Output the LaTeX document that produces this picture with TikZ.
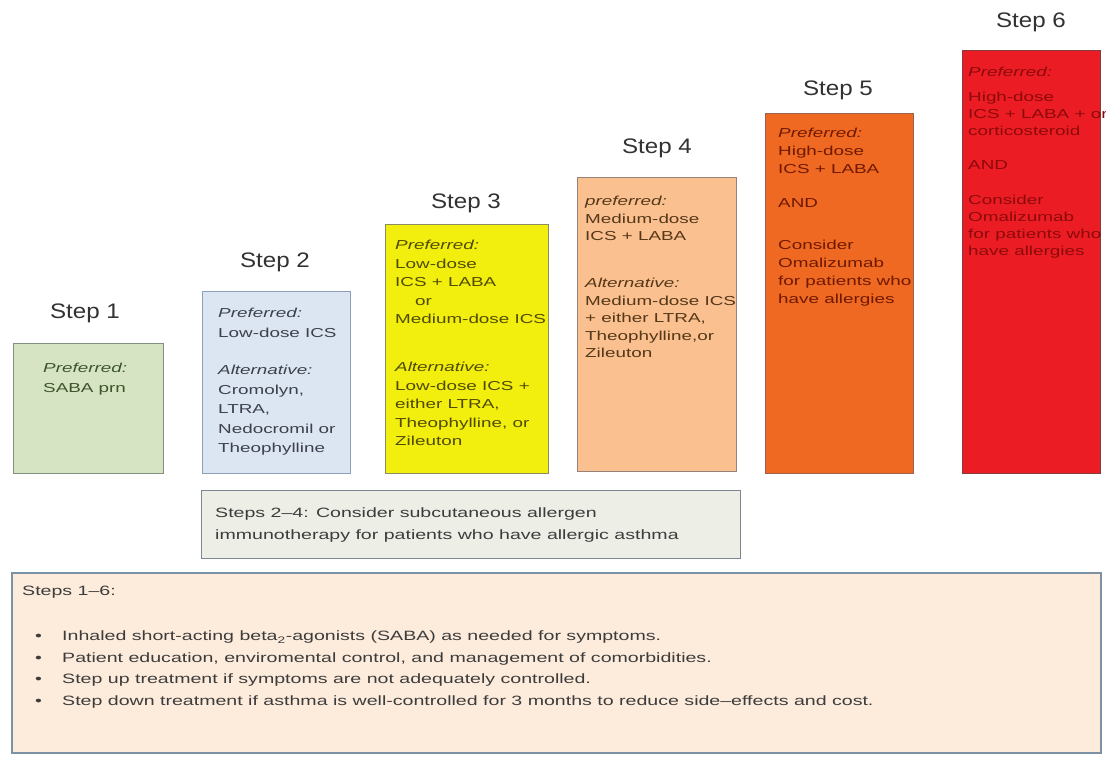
\documentclass[tikz,border=0pt]{standalone}
\usepackage{fontspec}
\setmainfont{Liberation Sans}
\newfontfamily\bodyf[FakeStretch=1.45,Ligatures=TeX]{Liberation Sans}
\newfontfamily\titlef[FakeStretch=1.15,Ligatures=TeX]{Liberation Sans}
\definecolor{titlegray}{RGB}{50,50,50}
\definecolor{g1fill}{RGB}{214,228,195}\definecolor{g1line}{RGB}{130,145,125}\definecolor{g1text}{RGB}{60,85,45}
\definecolor{b2fill}{RGB}{220,230,242}\definecolor{b2line}{RGB}{140,160,185}\definecolor{b2text}{RGB}{60,65,75}
\definecolor{y3fill}{RGB}{242,238,14}\definecolor{y3line}{RGB}{140,140,100}\definecolor{y3text}{RGB}{80,75,0}
\definecolor{p4fill}{RGB}{250,192,143}\definecolor{p4line}{RGB}{150,130,120}\definecolor{p4text}{RGB}{85,55,25}
\definecolor{o5fill}{RGB}{240,105,35}\definecolor{o5line}{RGB}{150,100,80}\definecolor{o5text}{RGB}{110,25,0}
\definecolor{r6fill}{RGB}{236,28,36}\definecolor{r6line}{RGB}{130,60,60}\definecolor{r6text}{RGB}{140,10,10}
\definecolor{midfill}{RGB}{237,238,230}\definecolor{midline}{RGB}{125,135,145}
\definecolor{botfill}{RGB}{253,236,220}\definecolor{botline}{RGB}{125,145,165}
\definecolor{bodytext}{RGB}{60,60,60}
\begin{document}
\begin{tikzpicture}[x=1pt,y=-1pt,
  stepbox/.style={draw=#1, line width=1.2pt, anchor=north west, inner sep=0pt},
  txt/.style={anchor=north west, inner sep=0pt, align=left, font=\bodyf\fontsize{13}{#1}\selectfont},
  txt/.default=18,
  steptitle/.style={font=\titlef\fontsize{21}{24}\selectfont, text=titlegray, inner sep=0pt}]
\useasboundingbox (0,0) rectangle (1106,756);
\fill[white] (0,0) rectangle (1106,756);

% step boxes
\node (s1) [stepbox=g1line, fill=g1fill, minimum width=150pt, minimum height=130pt] at (13,343) {};
\node (s2) [stepbox=b2line, fill=b2fill, minimum width=148pt, minimum height=182pt] at (202,291) {};
\node (s3) [stepbox=y3line, fill=y3fill, minimum width=163pt, minimum height=249pt] at (385,224) {};
\node (s4) [stepbox=p4line, fill=p4fill, minimum width=159pt, minimum height=294pt] at (577,177) {};
\node (s5) [stepbox=o5line, fill=o5fill, minimum width=148pt, minimum height=360pt] at (765,113) {};
\node (s6) [stepbox=r6line, fill=r6fill, minimum width=138pt, minimum height=423pt] at (962,50) {};

% titles
\node (t1) [steptitle] at (85,313) {Step 1};
\node (t2) [steptitle] at (275,262) {Step 2};
\node (t3) [steptitle] at (466,203) {Step 3};
\node (t4) [steptitle] at (657,148) {Step 4};
\node (t5) [steptitle] at (838,90) {Step 5};
\node (t6) [steptitle] at (1031,22) {Step 6};

% box texts
\node (x1) [txt=20, text=g1text] at (43,363) {\textit{Preferred:}\\SABA prn};
\node (x2) [txt=19.5, text=b2text] at (218,308) {\textit{Preferred:}\\Low-dose ICS\\[18pt]\textit{Alternative:}\\Cromolyn,\\LTRA,\\Nedocromil or\\Theophylline};
\node (x3) [txt=18.5, text=y3text] at (395,240) {\textit{Preferred:}\\Low-dose\\ICS + LABA\\\hspace*{20pt}or\\Medium-dose ICS\\[29.5pt]\textit{Alternative:}\\Low-dose ICS +\\either LTRA,\\Theophylline, or\\Zileuton};
\node (x4) [txt=17.5, text=p4text] at (585,196) {\textit{preferred:}\\Medium-dose\\ICS + LABA\\[29.5pt]\textit{Alternative:}\\Medium-dose ICS\\+ either LTRA,\\Theophylline,or\\Zileuton};
\node (x5) [txt=18, text=o5text] at (778,128) {\textit{Preferred:}\\High-dose\\ICS + LABA\\[16pt]AND\\[24pt]Consider\\Omalizumab\\for patients who\\have allergies};
\begin{scope}
\clip (0,0) rectangle (1106,756);
\node (x6) [txt=17, text=r6text] at (968,67) {\textit{Preferred:}\\[8pt]High-dose\\ICS + LABA + oral\\corticosteroid\\[17pt]AND\\[18pt]Consider\\Omalizumab\\for patients who\\have allergies};
\end{scope}

% steps 2-4 box
\node (m) [stepbox=midline, fill=midfill, minimum width=539pt, minimum height=68pt] at (201,490) {};
\node (mt) [txt=22, font=\bodyf\fontsize{13.5}{22}\selectfont, text=bodytext] at (215,508) {Steps 2–4: Consider subcutaneous allergen\\immunotherapy for patients who have allergic asthma};

% bottom box
\node (b) [stepbox=botline, line width=2pt, fill=botfill, minimum width=1089pt, minimum height=180pt] at (11,572) {};
\node (bh) [txt, font=\bodyf\fontsize{13.5}{21.5}\selectfont, text=bodytext] at (22,586) {Steps 1–6:};
\node (bl) [txt, font=\bodyf\fontsize{13.5}{21.5}\selectfont, text=bodytext] at (35,631) {%
\makebox[27pt][l]{\textbullet}Inhaled short-acting beta\textsubscript{2}-agonists (SABA) as needed for symptoms.\\
\makebox[27pt][l]{\textbullet}Patient education, enviromental control, and management of comorbidities.\\
\makebox[27pt][l]{\textbullet}Step up treatment if symptoms are not adequately controlled.\\
\makebox[27pt][l]{\textbullet}Step down treatment if asthma is well-controlled for 3 months to reduce side–effects and cost.};
\end{tikzpicture}
\end{document}
